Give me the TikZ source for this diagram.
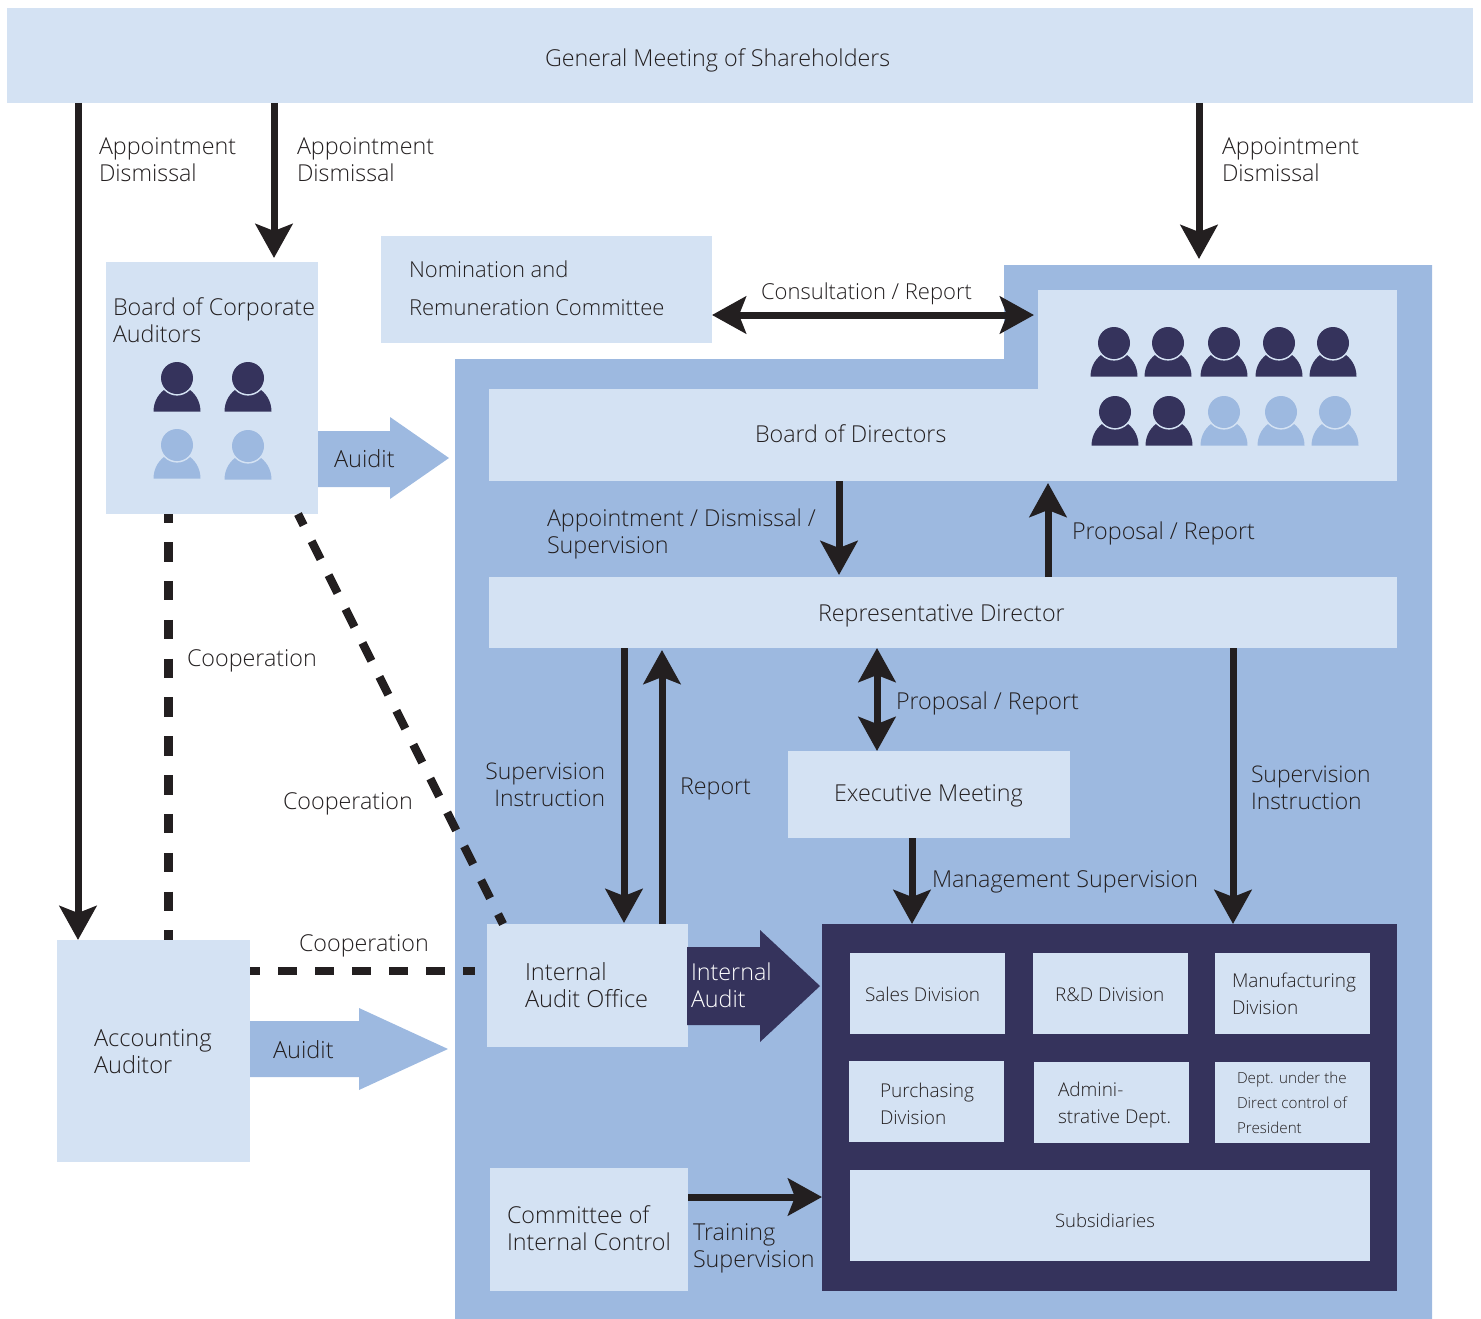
\documentclass[tikz,border=0pt]{standalone}
\usepackage{fontspec}
\setmainfont{Open Sans Light}
\usetikzlibrary{arrows.meta}
\definecolor{lightblue}{HTML}{D4E2F3}
\definecolor{midblue}{HTML}{9DB9E0}
\definecolor{navy}{HTML}{35335C}
\definecolor{ink}{HTML}{231F20}
\tikzset{
  lightbox/.style={fill=lightblue,inner sep=0pt,outer sep=0pt,anchor=north west},
  navybox/.style={fill=navy,inner sep=0pt,outer sep=0pt,anchor=north west},
  lab/.style={anchor=west,align=left,inner sep=0pt,outer sep=0pt,text=ink,font=\fontsize{23.3}{27}\selectfont},
  labbig/.style={lab,font=\fontsize{23.6}{27}\selectfont},
  labsup/.style={lab,font=\fontsize{22.9}{27}\selectfont},
  labmid/.style={lab,font=\fontsize{19}{27}\selectfont},
  labsub/.style={lab,font=\fontsize{18.5}{27}\selectfont},
  labsmall/.style={lab,font=\fontsize{15.2}{25}\selectfont},
  labwide/.style={lab,font=\fontsize{22}{38}\selectfont},
  labnarrow/.style={lab,font=\fontsize{22}{27}\selectfont},
  conn/.style={draw=ink,line width=7pt,-{Stealth[length=34pt,width=37pt,inset=7pt]}},
  twoway/.style={draw=ink,line width=7pt,{Stealth[length=34pt,width=37pt,inset=7pt]}-{Stealth[length=34pt,width=37pt,inset=7pt]}},
  dashline/.style={draw=ink,line width=8.4pt},
  persondark/.pic={
    \fill[navy] (-23.5,33.7) .. controls (-23.5,22) and (-17,14) .. (-10,10) -- (10,10) .. controls (17,14) and (23.5,22) .. (23.5,33.7) -- cycle;
    \fill[lightblue] (0,0) circle[radius=17.6];
    \fill[navy] (0,0) circle[radius=16];
  },
  personlight/.pic={
    \fill[midblue] (-23.5,33.7) .. controls (-23.5,22) and (-17,14) .. (-10,10) -- (10,10) .. controls (17,14) and (23.5,22) .. (23.5,33.7) -- cycle;
    \fill[lightblue] (0,0) circle[radius=17.6];
    \fill[midblue] (0,0) circle[radius=16];
  }
}
\newcommand\bx[6]{%
  \pgfmathsetmacro\bxw{#4-#2}\pgfmathsetmacro\bxh{#5-#3}%
  \node[#6,minimum width=\bxw pt,minimum height=\bxh pt] (#1) at (#2,#3) {};}
\begin{document}
\begin{tikzpicture}[x=1pt,y=-1pt]
\useasboundingbox (0,0) rectangle (1481,1319);
% backgrounds
\fill[midblue] (1004,265) -- (1432,265) -- (1432,1319) -- (455,1319) -- (455,359) -- (1004,359) -- cycle;
\coordinate (bgtop) at (1004,265);
% boxes
\bx{gm}{7}{8}{1473}{103}{lightbox}
\bx{nomination}{381}{236}{712}{343}{lightbox}
\bx{cauditors}{106}{262}{318}{514}{lightbox}
\bx{boardtop}{1038}{290}{1397}{481}{lightbox}
\bx{board}{489}{389}{1397}{481}{lightbox}
\bx{rep}{489}{577}{1397}{648}{lightbox}
\bx{exec}{788}{751}{1070}{838}{lightbox}
\bx{internal}{487}{924}{688}{1047}{lightbox}
\bx{accounting}{57}{940}{250}{1162}{lightbox}
\bx{committee}{490}{1168}{688}{1291}{lightbox}
\bx{ops}{822}{924}{1397}{1291}{navybox}
\bx{sales}{850}{953}{1005}{1034}{lightbox}
\bx{rnd}{1033}{953}{1188}{1034}{lightbox}
\bx{manu}{1215}{953}{1370}{1034}{lightbox}
\bx{purch}{849}{1061}{1004}{1142}{lightbox}
\bx{admin}{1034}{1062}{1189}{1143}{lightbox}
\bx{dept}{1215}{1062}{1370}{1143}{lightbox}
\bx{subs}{850}{1170}{1370}{1261}{lightbox}
% block arrows
\fill[midblue] (cauditors.east |- 0,431) -- (390,431) -- (390,417) -- (449,458) -- (390,499) -- (390,487) -- (cauditors.east |- 0,487) -- cycle;
\fill[midblue] (accounting.east |- 0,1021) -- (359,1021) -- (359,1008) -- (448,1049) -- (359,1090) -- (359,1077) -- (accounting.east |- 0,1077) -- cycle;
\fill[navy] (687,947) -- (760,947) -- (760,930) -- (820,986) -- (760,1042) -- (760,1025) -- (687,1025) -- cycle;
% people
\foreach \px in {1114,1168,1224,1279,1333} \pic at (\px,343) {persondark};
\foreach \px in {1115,1169} \pic at (\px,412) {persondark};
\foreach \px in {1224,1281,1335} \pic at (\px,412) {personlight};
\pic at (177,378) {persondark};
\pic at (248,378) {persondark};
\pic at (177,445) {personlight};
\pic at (248,446) {personlight};
% connectors
\draw[conn] (78,0 |- gm.south) -- (78,0 |- accounting.north);
\draw[conn,shorten >=4pt] (274,0 |- gm.south) -- (274,0 |- cauditors.north);
\draw[conn,shorten >=6pt] (1199,0 |- gm.south) -- (1199,0 |- bgtop);
\draw[twoway,shorten >=4pt] (nomination.east |- 0,315) -- (boardtop.west |- 0,315);
\draw[conn,shorten >=2pt] (839,0 |- board.south) -- (839,0 |- rep.north);
\draw[conn,shorten >=2pt] (1048,0 |- rep.north) -- (1048,0 |- board.south);
\draw[twoway] (877,0 |- rep.south) -- (877,0 |- exec.north);
\draw[conn,shorten >=1pt] (624,0 |- rep.south) -- (624,0 |- internal.north);
\draw[conn,shorten >=2pt] (662,0 |- internal.north) -- (662,0 |- rep.south);
\draw[conn] (1233,0 |- rep.south) -- (1233,0 |- ops.north);
\draw[conn] (912,0 |- exec.south) -- (912,0 |- ops.north);
\draw[conn] (committee.east |- 0,1197) -- (ops.west |- 0,1197);
% dashed connectors
\draw[dashline,dash pattern=on 19.4pt off 19.43pt,dash phase=10.7pt] (168.5,0 |- cauditors.south) -- (168.5,0 |- accounting.north);
\draw[dashline,dash pattern=on 20pt off 17.9pt,dash phase=7.4pt] (298,0 |- cauditors.south) -- (503,0 |- internal.north);
\draw[dashline,dash pattern=on 19pt off 18pt,dash phase=9pt,shorten >=12pt] (accounting.east |- 0,971) -- (internal.west |- 0,971);
% labels
\node[lab] (t1) at (545,60) {General Meeting of Shareholders};
\node[lab] (t2) at (99,160) {Appointment\\Dismissal};
\node[lab] (t3) at (297,160) {Appointment\\Dismissal};
\node[lab] (t4) at (1222,160) {Appointment\\Dismissal};
\node[labwide] (t5) at (409,288) {Nomination and\\Remuneration Committee};
\node[labnarrow] (t6) at (761,294) {Consultation / Report};
\node[lab] (t7) at (113,320) {Board of Corporate\\Auditors};
\node[labbig] (t8) at (334,459) {Auidit};
\node[lab] (t9) at (755,434) {Board of Directors};
\node[lab] (t10) at (547,534) {Appointment / Dismissal /\\Supervision};
\node[lab] (t11) at (1072,533) {Proposal / Report};
\node[lab] (t12) at (818,616) {Representative Director};
\node[lab] (t13) at (896,703) {Proposal / Report};
\node[lab] (t14) at (187,661) {Cooperation};
\node[lab] (t15) at (283,804) {Cooperation};
\node[lab] (t16) at (299,946) {Cooperation};
\node[labsup,anchor=east,align=right] (t17) at (605,785) {Supervision\\Instruction};
\node[lab] (t18) at (680,789) {Report};
\node[labsup] (t19) at (1251,788) {Supervision\\Instruction};
\node[lab] (t20) at (834,796) {Executive Meeting};
\node[lab] (t21) at (932,882) {Management Supervision};
\node[labbig] (t22) at (525,985) {Internal\\Audit Office};
\node[lab,text=white] (t23) at (691,985) {Internal\\Audit};
\node[labbig] (t24) at (94,1052) {Accounting\\Auditor};
\node[labbig] (t25) at (273,1050) {Auidit};
\node[lab] (t26) at (507,1228) {Committee of\\Internal Control};
\node[lab] (t27) at (693,1248) {Training\\Supervision};
\node[labmid] (t28) at (865,994) {Sales Division};
\node[labmid] (t29) at (1055,995) {R\&D Division};
\node[labmid] (t30) at (1232,994) {Manufacturing\\Division};
\node[labmid] (t31) at (880,1104) {Purchasing\\Division};
\node[labmid] (t32) at (1058,1105) {Admini-\\strative Dept.};
\node[labsmall] (t33) at (1237,1103) {Dept. under the\\Direct control of\\President};
\node[labsub] (t34) at (1055,1221) {Subsidiaries};
\end{tikzpicture}
\end{document}
